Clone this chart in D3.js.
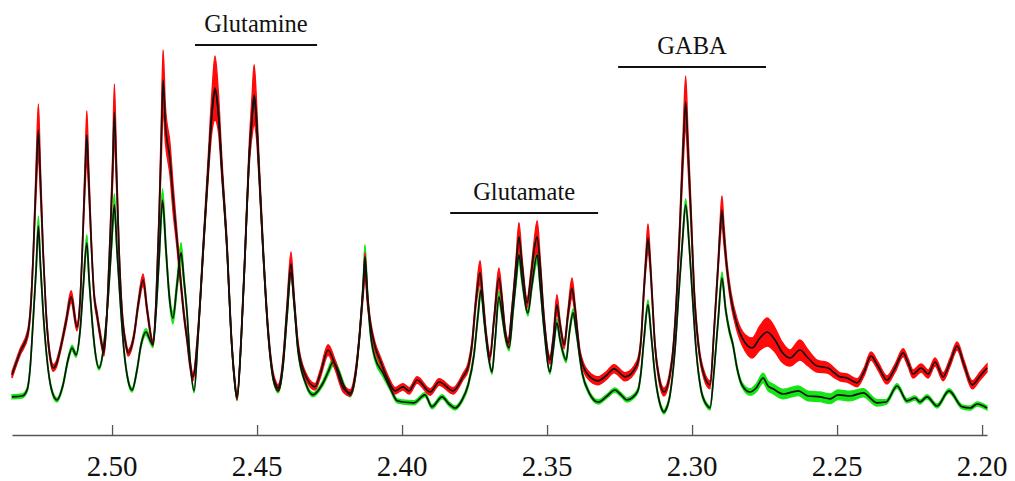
<!DOCTYPE html>
<html>
<head>
<meta charset="utf-8">
<script src="https://cdn.jsdelivr.net/npm/d3@7/dist/d3.min.js"></script>
<style>
  body { margin: 0; background: #fff; }
  svg { display: block; }
</style>
</head>
<body>
<div id="chart"></div>
<script>
// [ppm, mean intensity, sd] (a.u.)
var redSpectrum = [
  [2.5345,16.3,0.8],[2.5317,22.0,0.8],[2.5290,26.8,1],[2.5279,35.0,1.2],[2.5271,47.5,1.5],
  [2.5262,65.0,3.5],[2.5254,77.5,6.5],[2.5247,65.0,3.5],[2.5238,47.5,1.5],[2.5228,32.5,1],
  [2.5217,22.5,1],[2.5210,19.3,0.8],[2.5203,18.0,0.8],[2.5193,18.8,0.8],[2.5179,22.5,0.8],
  [2.5159,29.5,1],[2.5141,35.8,1.5],[2.5121,28.3,1],[2.5110,35.0,1],[2.5100,52.5,1.5],
  [2.5093,66.3,3.5],[2.5087,76.3,6],[2.5081,66.3,3.5],[2.5072,50.0,1.5],[2.5062,36.3,1],
  [2.5052,31.3,1],[2.5041,26.3,1],[2.5028,21.8,0.8],[2.5017,32.5,1],[2.5007,50.0,1.5],
  [2.4998,67.5,3.5],[2.4992,82.0,7],[2.4985,67.5,3.5],[2.4976,47.5,1.5],[2.4966,32.5,1],
  [2.4952,23.8,0.8],[2.4945,21.8,0.8],[2.4924,26.3,0.8],[2.4910,33.8,1],[2.4893,40.0,1.5],
  [2.4879,32.5,1],[2.4859,24.3,0.8],[2.4848,35.0,1],[2.4838,55.0,2],[2.4831,72.5,4.5],
  [2.4824,90.0,7.5],[2.4816,78.8,4.5],[2.4800,70.0,4],[2.4790,60.8,3.5],[2.4776,50.0,2],
  [2.4766,41.8,1.5],[2.4752,31.3,1],[2.4741,25.0,1],[2.4731,18.8,1],[2.4721,15.8,1],
  [2.4703,27.5,1],[2.4686,47.5,1.5],[2.4669,67.5,2.5],[2.4655,82.5,5],[2.4645,88.0,8],
  [2.4634,82.5,5],[2.4621,67.5,2.5],[2.4603,47.5,1.5],[2.4590,27.5,1],[2.4579,16.3,0.8],
  [2.4569,10.8,0.8],[2.4555,25.0,1],[2.4541,47.5,1.5],[2.4528,70.0,2.5],[2.4517,81.3,5],
  [2.4510,86.3,7.5],[2.4503,81.3,5],[2.4493,67.5,2.5],[2.4479,47.5,1.5],[2.4462,27.5,1],
  [2.4445,16.3,0.8],[2.4435,13.8,0.8],[2.4428,13.0,0.8],[2.4421,14.0,0.8],[2.4410,20.0,1],
  [2.4397,32.5,1.2],[2.4383,44.0,3],[2.4372,35.0,1.2],[2.4359,23.8,1],[2.4334,16.3,0.8],
  [2.4300,13.3,0.8],[2.4283,16.3,1],[2.4255,22.5,1.3],[2.4231,18.8,1.2],[2.4203,13.0,1],
  [2.4179,11.8,0.8],[2.4159,17.5,1],[2.4145,27.5,1],[2.4134,37.5,1.5],[2.4128,43.8,3],
  [2.4119,35.0,1.5],[2.4110,29.5,1],[2.4093,23.3,1],[2.4076,20.0,1],[2.4048,15.0,1],
  [2.4024,12.3,0.8],[2.3997,13.3,0.8],[2.3976,12.3,0.8],[2.3948,15.0,0.8],[2.3903,12.0,0.8],
  [2.3872,14.5,0.8],[2.3824,12.3,0.8],[2.3790,15.8,0.8],[2.3772,18.3,1],[2.3759,23.8,1],
  [2.3745,35.0,1.5],[2.3731,41.8,3],[2.3721,35.0,1.5],[2.3710,26.3,1],[2.3697,20.8,1],
  [2.3683,30.0,1],[2.3666,40.5,2.5],[2.3655,35.0,1.2],[2.3645,27.5,1],[2.3634,24.3,1],
  [2.3621,32.5,1],[2.3607,43.8,1.5],[2.3597,50.8,3.5],[2.3586,43.8,1.5],[2.3569,34.3,1.2],
  [2.3555,41.3,1.5],[2.3545,47.5,2],[2.3534,50.8,4],[2.3524,43.8,2],[2.3510,30.0,1],
  [2.3490,20.0,1],[2.3479,25.0,1],[2.3466,33.8,2.5],[2.3455,28.8,1],[2.3441,23.8,1],
  [2.3428,31.3,1.2],[2.3414,38.0,2.5],[2.3403,32.5,1.2],[2.3386,21.3,1],[2.3359,16.3,1],
  [2.3324,14.8,1],[2.3297,16.0,1],[2.3269,17.8,1],[2.3231,15.8,1],[2.3190,18.8,1],
  [2.3176,25.0,1],[2.3166,37.5,1.5],[2.3159,45.0,2],[2.3152,50.5,3.5],[2.3145,45.0,2],
  [2.3138,36.3,1.5],[2.3128,23.8,1],[2.3114,15.5,1],[2.3097,12.0,1],[2.3069,20.0,1],
  [2.3052,37.5,1.5],[2.3041,55.0,2.5],[2.3031,72.5,4],[2.3022,84.5,6.5],[2.3014,72.5,4],
  [2.3003,55.0,2.5],[2.2993,37.5,1.5],[2.2976,22.5,1],[2.2959,16.3,1],[2.2938,13.8,1],
  [2.2924,27.5,1],[2.2910,43.8,1.5],[2.2903,52.5,2.5],[2.2897,57.5,3.5],[2.2890,51.3,2.5],
  [2.2879,42.5,1.5],[2.2866,35.5,1.5],[2.2845,28.8,1.5],[2.2817,24.3,2],[2.2793,23.0,2.5],
  [2.2766,25.5,3],[2.2741,27.0,3.5],[2.2714,25.0,3],[2.2690,22.0,2.5],[2.2662,20.5,2],
  [2.2628,22.5,2.5],[2.2600,20.5,2],[2.2569,18.5,1.5],[2.2531,18.0,1.3],[2.2510,16.8,1.2],
  [2.2490,15.8,1],[2.2466,15.5,1],[2.2431,14.3,1],[2.2407,17.0,1],[2.2383,21.0,1],
  [2.2359,18.5,1],[2.2328,15.0,1],[2.2300,18.0,1],[2.2272,21.8,1],[2.2255,19.3,1],
  [2.2238,16.5,1],[2.2210,18.0,1],[2.2186,16.5,1],[2.2162,19.5,1],[2.2134,15.8,1],
  [2.2110,19.5,1],[2.2086,23.5,1],[2.2062,18.8,1],[2.2034,13.8,1],[2.2007,16.0,1],
  [2.1983,18.0,1]
];

var greenSpectrum = [
  [2.5345,10.8,0.5],[2.5310,11.0,0.5],[2.5293,12.5,0.5],[2.5283,17.5,0.6],[2.5272,30.0,0.8],
  [2.5262,42.5,1.2],[2.5254,53.5,2.5],[2.5247,43.8,1.2],[2.5238,32.5,0.8],[2.5224,20.0,0.5],
  [2.5210,13.0,0.5],[2.5190,10.0,0.5],[2.5169,13.8,0.5],[2.5152,20.0,0.6],[2.5138,23.0,0.7],
  [2.5124,21.3,0.6],[2.5110,27.5,0.7],[2.5100,37.5,0.9],[2.5087,49.3,2],[2.5079,40.0,1],
  [2.5069,30.0,0.8],[2.5059,22.5,0.6],[2.5045,18.0,0.5],[2.5028,23.8,0.6],[2.5014,35.0,0.8],
  [2.5003,47.5,1.2],[2.4992,58.8,2.8],[2.4983,47.5,1.2],[2.4972,35.0,0.8],[2.4959,22.5,0.6],
  [2.4945,15.0,0.5],[2.4931,12.5,0.5],[2.4914,17.5,0.5],[2.4900,23.8,0.6],[2.4883,27.0,0.8],
  [2.4869,25.0,0.7],[2.4859,23.8,0.7],[2.4848,32.5,0.8],[2.4838,45.0,1.2],[2.4826,60.0,2.8],
  [2.4814,47.5,1.5],[2.4803,36.3,1.2],[2.4790,30.5,1.5],[2.4776,38.8,1.5],[2.4762,46.8,2.5],
  [2.4752,40.0,1.2],[2.4741,31.3,0.8],[2.4731,20.0,0.6],[2.4717,12.3,0.5],[2.4703,26.3,0.6],
  [2.4686,47.0,0.8],[2.4669,67.0,1],[2.4655,82.0,1.5],[2.4645,87.3,2],[2.4634,82.0,1.5],
  [2.4621,67.0,1],[2.4603,47.0,0.8],[2.4590,27.0,0.6],[2.4579,15.8,0.5],[2.4569,10.3,0.5],
  [2.4555,24.5,0.6],[2.4541,47.0,0.8],[2.4528,69.5,1],[2.4517,80.8,1.5],[2.4510,85.5,2],
  [2.4503,80.8,1.5],[2.4493,67.0,1],[2.4479,47.0,0.8],[2.4462,26.8,0.6],[2.4445,15.5,0.5],
  [2.4435,13.0,0.5],[2.4428,12.3,0.5],[2.4421,13.3,0.5],[2.4410,18.8,0.5],[2.4397,30.5,0.6],
  [2.4383,42.0,1.2],[2.4372,33.8,0.7],[2.4359,22.5,0.6],[2.4334,14.5,0.5],[2.4307,11.3,0.5],
  [2.4276,13.8,0.6],[2.4255,17.0,0.8],[2.4238,19.5,1],[2.4221,17.5,0.8],[2.4197,13.0,0.6],
  [2.4179,11.3,0.5],[2.4159,17.0,0.6],[2.4145,27.5,0.8],[2.4134,38.8,1.5],[2.4128,45.8,3],
  [2.4119,36.3,1.5],[2.4110,27.5,1],[2.4093,20.5,0.8],[2.4066,16.8,1],[2.4041,13.0,0.6],
  [2.4017,9.8,0.5],[2.3997,9.5,0.5],[2.3959,9.3,0.5],[2.3921,11.3,0.5],[2.3897,8.3,0.5],
  [2.3862,10.8,0.5],[2.3838,9.0,0.5],[2.3817,8.0,0.5],[2.3793,10.0,0.5],[2.3772,13.8,0.6],
  [2.3752,21.3,0.8],[2.3738,31.3,1],[2.3728,37.5,1.5],[2.3717,30.0,1],[2.3703,21.3,0.7],
  [2.3690,17.0,0.6],[2.3679,25.0,0.8],[2.3666,35.8,1.5],[2.3655,31.3,1],[2.3645,26.3,0.8],
  [2.3631,23.0,0.7],[2.3617,32.5,0.8],[2.3607,40.0,1.2],[2.3597,46.3,2],[2.3586,40.0,1.2],
  [2.3566,31.8,0.8],[2.3552,38.8,1],[2.3534,46.3,2],[2.3524,38.8,1],[2.3510,27.5,0.8],
  [2.3490,17.0,0.6],[2.3479,22.5,0.7],[2.3466,29.3,1],[2.3455,25.0,0.8],[2.3434,20.0,0.7],
  [2.3424,26.3,0.8],[2.3410,31.8,1],[2.3400,27.5,0.8],[2.3379,16.8,0.6],[2.3355,11.8,0.5],
  [2.3324,9.5,0.5],[2.3293,11.0,0.5],[2.3266,12.5,0.5],[2.3245,11.3,0.5],[2.3224,10.0,0.5],
  [2.3203,10.8,0.5],[2.3186,12.5,0.5],[2.3176,17.0,0.6],[2.3166,25.0,0.8],[2.3152,33.8,1.2],
  [2.3141,26.3,0.8],[2.3128,16.3,0.6],[2.3114,10.0,0.5],[2.3105,7.8,0.5],[2.3097,7.0,0.5],
  [2.3089,7.8,0.5],[2.3076,11.3,0.5],[2.3059,22.5,0.6],[2.3045,37.5,0.8],[2.3034,48.8,1],
  [2.3022,58.8,1.5],[2.3010,48.8,1],[2.3000,37.5,0.8],[2.2986,22.5,0.6],[2.2969,12.5,0.5],
  [2.2950,8.8,0.5],[2.2938,8.0,0.5],[2.2924,17.5,0.6],[2.2910,30.0,0.8],[2.2897,40.5,1.5],
  [2.2884,32.5,0.8],[2.2872,27.5,0.7],[2.2859,23.8,0.6],[2.2845,18.0,0.6],[2.2828,13.8,0.6],
  [2.2800,12.0,0.8],[2.2779,13.0,1],[2.2755,15.5,1.2],[2.2738,13.5,1.2],[2.2721,12.8,1.2],
  [2.2686,11.5,1.2],[2.2634,12.3,1.2],[2.2600,11.0,1.2],[2.2559,10.8,1.2],[2.2524,10.3,1.2],
  [2.2497,11.3,1.2],[2.2455,11.0,1.2],[2.2410,11.8,1],[2.2362,9.3,0.8],[2.2331,9.5,0.6],
  [2.2293,13.5,0.6],[2.2259,9.8,0.5],[2.2231,10.5,0.5],[2.2214,9.5,0.5],[2.2190,10.8,0.5],
  [2.2155,8.5,0.5],[2.2114,12.3,0.5],[2.2069,8.3,0.5],[2.2041,8.0,0.5],[2.2017,9.0,0.5],
  [2.1983,8.0,0.5]
];

var tickValues = [2.50, 2.45, 2.40, 2.35, 2.30, 2.25, 2.20];

var annotations = [
  { name: 'Glutamine', from: 2.4714, to: 2.4293, level: 98.75 },
  { name: 'Glutamate', from: 2.3834, to: 2.3324, level: 56.75 },
  { name: 'GABA',      from: 2.3255, to: 2.2745, level: 93.25 }
];

var serif = 'Liberation Serif';
var width = 1015, height = 481;

var svg = d3.select('#chart')
  .append('svg')
  .attr('width', width)
  .attr('height', height);

var x = d3.scaleLinear().domain([2.5345, 2.1983]).range([12, 987]);
var y = d3.scaleLinear().domain([0, 100]).range([440, 40]);

var band = d3.area()
  .curve(d3.curveMonotoneX)
  .x(function(d){ return x(d[0]); })
  .y0(function(d){ return y(d[1] - d[2]); })
  .y1(function(d){ return y(d[1] + d[2]); });

var mean = d3.line()
  .curve(d3.curveMonotoneX)
  .x(function(d){ return x(d[0]); })
  .y(function(d){ return y(d[1]); });

// sd bands first, mean lines on top
svg.append('path').datum(greenSpectrum)
  .attr('d', band).attr('fill', '#16e516').attr('stroke', '#16e516').attr('stroke-width', 1.4);
svg.append('path').datum(redSpectrum)
  .attr('d', band).attr('fill', '#ff0a0a').attr('stroke', '#ff0a0a').attr('stroke-width', 1.4);

[greenSpectrum, redSpectrum].forEach(function(s){
  svg.append('path').datum(s)
    .attr('d', mean)
    .attr('fill', 'none')
    .attr('stroke', '#111')
    .attr('stroke-width', 1.7)
    .attr('stroke-linejoin', 'round');
});

// x axis, ticks pointing up; labels drawn separately so the serif font sticks
var axisY = 435;
var axis = svg.append('g')
  .attr('transform', 'translate(0,' + axisY + ')')
  .call(d3.axisBottom(x)
    .tickValues(tickValues)
    .tickFormat(function(){ return ''; })
    .tickSizeInner(-10)
    .tickSizeOuter(0));

axis.select('.domain').attr('stroke', '#555').attr('stroke-width', 1.3);
axis.selectAll('.tick line').attr('stroke', '#555').attr('stroke-width', 1.3);

var fmt = d3.format('.2f');
svg.append('g')
  .selectAll('text')
  .data(tickValues)
  .enter().append('text')
  .attr('x', function(d){ return x(d); })
  .attr('y', axisY + 41)
  .attr('text-anchor', 'middle')
  .style('font-family', serif)
  .style('font-size', '29px')
  .style('fill', '#111')
  .text(function(d){ return fmt(d); });

// metabolite labels
var ann = svg.selectAll('g.ann').data(annotations).enter().append('g').attr('class', 'ann');
ann.append('line')
  .attr('x1', function(d){ return x(d.from); })
  .attr('x2', function(d){ return x(d.to); })
  .attr('y1', function(d){ return y(d.level); })
  .attr('y2', function(d){ return y(d.level); })
  .attr('stroke', '#111')
  .attr('stroke-width', 2);
ann.append('text')
  .attr('text-anchor', 'middle')
  .style('font-family', serif)
  .style('font-size', '24.5px')
  .style('fill', '#111')
  .attr('x', function(d){ return (x(d.from) + x(d.to)) / 2; })
  .attr('y', function(d){ return y(d.level) - 13; })
  .text(function(d){ return d.name; });
</script>
</body>
</html>
